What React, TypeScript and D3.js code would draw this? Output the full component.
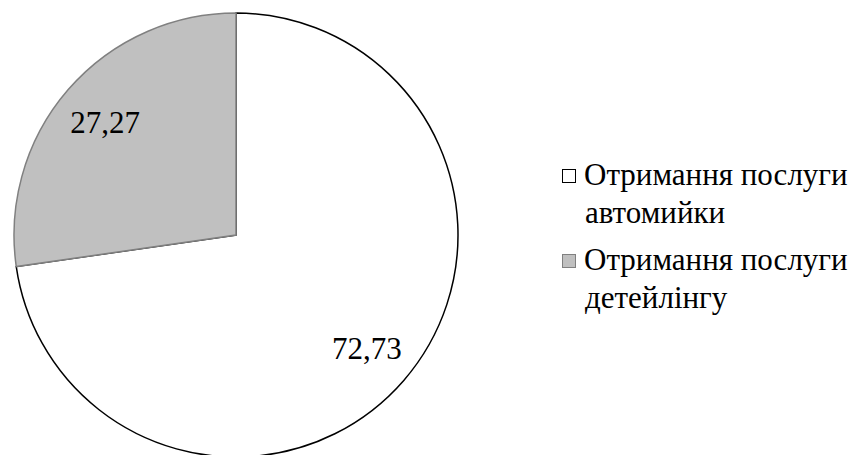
import React from 'react';
import * as d3 from 'd3';

const categories = ['Отримання послуги автомийки', 'Отримання послуги детейлінгу'];
const values = [72.73, 27.27];
const valueLabels = ['72,73', '27,27'];
const legendLines = [['Отримання послуги', 'автомийки'], ['Отримання послуги', 'детейлінгу']];
const fills = ['#ffffff', '#c0c0c0'];
const strokes = ['#000000', '#808080'];

const W = 858;
const H = 455;
const CX = 236;
const CY = 235;
const R = 222;
const SERIF = "'Liberation Serif', 'Times New Roman', serif";

export default function App() {
  const pie = d3.pie<number>().sort(null).value(d => d);
  const arcs = pie(values);
  const arc = d3.arc<d3.PieArcDatum<number>>().innerRadius(0).outerRadius(R);
  // labels sit at ~78% of the radius along each slice's mid angle
  const labelArc = d3.arc<d3.PieArcDatum<number>>().innerRadius(R * 0.78).outerRadius(R * 0.78);

  return (
    <div style={{ position: 'absolute', left: 0, top: 0, width: W, height: H, fontFamily: SERIF }}>
      <style>{`.chart text { font-family: ${SERIF}; }`}</style>
      <svg className="chart" width={W} height={H} style={{ display: 'block', background: '#fff' }}>
        {arcs.map((a, i) => (
          <path key={categories[i]} transform={`translate(${CX},${CY})`} d={arc(a) || ''} fill={fills[i]} stroke={strokes[i]} strokeWidth={1.5} />
        ))}
        {arcs.map((a, i) => {
          const [x, y] = labelArc.centroid(a);
          return (
            <text key={'l' + i} x={CX + x} y={CY + y + 11} textAnchor="middle" fontSize={31}>
              {valueLabels[i]}
            </text>
          );
        })}
        {legendLines.map((lines, i) => (
          <rect key={'r' + i} x={562.5} y={169.5 + i * 85} width={13} height={13} fill={fills[i]} stroke={strokes[i]} strokeWidth={1} />
        ))}
        {legendLines.map((lines, i) =>
          lines.map((ln, j) => (
            <text key={'t' + i + j} x={j === 0 ? 584 : 585} y={185 + i * 85 + j * 38} fontSize={31}>
              {ln}
            </text>
          ))
        )}
      </svg>
    </div>
  );
}
